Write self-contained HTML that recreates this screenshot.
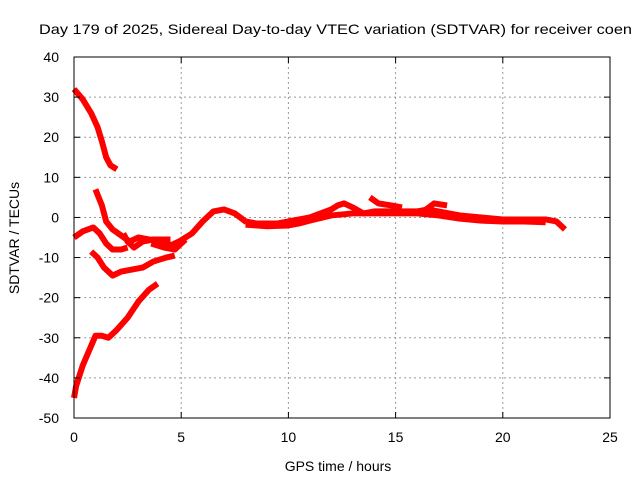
<!DOCTYPE html>
<html><head><meta charset="utf-8"><style>
html,body{margin:0;padding:0;background:#fff}
svg{display:block;font-family:"Liberation Sans",sans-serif}
</style></head><body>
<svg id="chart" width="640" height="480" viewBox="0 0 640 480">
<text x="39" y="34" font-size="14" textLength="593" lengthAdjust="spacingAndGlyphs">Day 179 of 2025, Sidereal Day-to-day VTEC variation (SDTVAR) for receiver coen</text>
<g id="grid"></g>
<g id="series"></g>
<rect x="74" y="57" width="536" height="361" fill="none" stroke="#000" stroke-width="1"/>
<g id="ticks"></g>
<text x="338" y="471" font-size="14" text-anchor="middle">GPS time / hours</text>
<text transform="translate(19,238) rotate(-90)" font-size="14" text-anchor="middle">SDTVAR / TECUs</text>
</svg>
<script>
const xTicks=[0,5,10,15,20,25];
const yTicks=[40,30,20,10,0,-10,-20,-30,-40,-50];
const seriesA=[[0,32],[0.4,29.5],[0.8,26],[1.1,22.5],[1.3,19],[1.5,15],[1.7,13],[2.0,12]];
const seriesB=[[1.0,7],[1.3,3],[1.5,-1],[1.8,-3],[2.2,-4.5],[2.6,-6],[3.0,-5],[3.5,-5.5],[4.0,-6],[4.5,-7],[4.9,-6],[5.5,-4],[6.0,-1],[6.5,1.5],[7.0,2],[7.5,1],[8.0,-1],[8.5,-1.5],[9,-1.5],[9.5,-1.5],[10,-1],[10.5,-0.5],[11,0],[11.5,1],[12,2],[12.3,3],[12.6,3.5],[13,2.5],[13.5,1],[14,1.5],[15,1.5],[16,1.5],[16.5,2],[17,1.5],[18,0.5],[19,0],[20,-0.5],[21,-0.5],[22,-0.5],[22.5,-1],[22.9,-3]];
const seriesBlow=[[8.0,-1.8],[9,-2.2],[10,-2],[10.5,-1.5],[11,-0.8],[12,0.5],[13,1],[14,1],[15,1],[16,1],[17,0.5],[18,-0.3],[19,-0.8],[20,-1],[21,-1],[22,-1.2]];
const seriesB2=[[13.8,5],[14.2,3.5],[14.8,3],[15.3,2.5]];
const seriesB3=[[16.3,1.5],[16.8,3.5],[17.4,3]];
const seriesB4=[[3.6,-6.5],[4.2,-7.5],[4.7,-8],[5.2,-5.5]];
const seriesC=[[0,-5],[0.4,-3.5],[0.9,-2.5],[1.2,-4],[1.5,-6.5],[1.8,-8],[2.2,-8],[2.5,-7.5]];
const seriesC2=[[2.3,-4],[2.5,-6],[2.8,-7.5],[3.2,-6],[3.7,-5.5],[4.5,-5.5]];
const seriesD=[[0.8,-8.5],[1.1,-10],[1.4,-12.5],[1.8,-14.5],[2.2,-13.5],[2.7,-13],[3.2,-12.5],[3.7,-11],[4.3,-10],[4.7,-9.5]];
const seriesE=[[0,-45],[0.1,-42],[0.4,-37],[0.8,-32],[1.0,-29.5],[1.3,-29.5],[1.6,-30],[2.0,-28],[2.5,-25],[3.0,-21],[3.5,-18],[3.9,-16.5]];
const allSeries=[seriesA,seriesB,seriesBlow,seriesB2,seriesB3,seriesB4,seriesC,seriesC2,seriesD,seriesE];
const NS="http://www.w3.org/2000/svg";
const X0=74,X1=610,Y0=418,Y1=57;
function xs(h){return X0+(h-0)/(25-0)*(X1-X0);}
function ys(v){return Y0-(v+50)/90*(Y0-Y1);}
const grid=document.getElementById('grid'),ticks=document.getElementById('ticks'),ser=document.getElementById('series');
function mk(t,a,p){const e=document.createElementNS(NS,t);for(const k in a)e.setAttribute(k,a[k]);p.appendChild(e);return e;}
xTicks.forEach(t=>{
  const x=xs(t);
  if(t>0&&t<25){const l=mk('line',{x1:x,x2:x,y1:Y1,y2:Y0,stroke:'#999','stroke-dasharray':'2,3'},grid);
  
  }
  mk('line',{x1:x,x2:x,y1:Y0,y2:Y0-6,stroke:'#000'},ticks);
  mk('line',{x1:x,x2:x,y1:Y1,y2:Y1+6,stroke:'#000'},ticks);
  const tx=mk('text',{x:x,y:Y0+24,'font-size':14,'text-anchor':'middle'},ticks);
  tx.textContent=t;
  
  
});
yTicks.forEach(t=>{
  const y=ys(t);
  if(t>-50&&t<40){const l=mk('line',{x1:X0,x2:X1,y1:y,y2:y,stroke:'#999','stroke-dasharray':'2,3'},grid);
  
  }
  mk('line',{x1:X0,x2:X0+6,y1:y,y2:y,stroke:'#000'},ticks);
  mk('line',{x1:X1,x2:X1-6,y1:y,y2:y,stroke:'#000'},ticks);
  const tx=mk('text',{x:59,y:y+5,'font-size':14,'text-anchor':'end'},ticks);
  tx.textContent=t;
  
  
});
allSeries.forEach(s=>{
  const p=mk('polyline',{points:s.map(d=>xs(d[0])+','+ys(d[1])).join(' '),fill:'none',stroke:'#f00','stroke-width':6,'stroke-linejoin':'round','stroke-linecap':'butt'},ser);
  
  
});
</script>
</body></html>
